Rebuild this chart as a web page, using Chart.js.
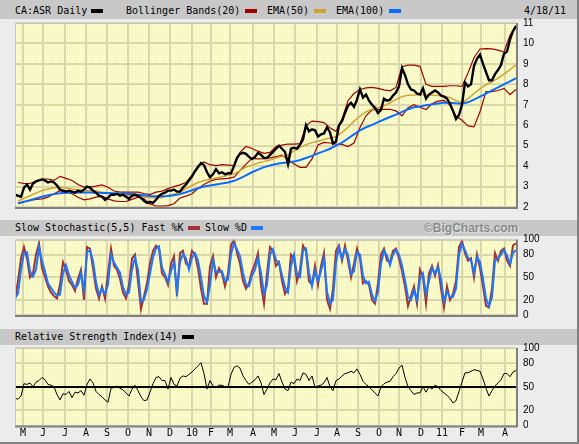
<!DOCTYPE html>
<html>
<head>
<meta charset="utf-8">
<script src="https://cdn.jsdelivr.net/npm/chart.js@4.4.1/dist/chart.umd.min.js"></script>
<style>
  html, body { margin: 0; padding: 0; }
  body { width: 579px; height: 444px; background: #ececec; position: relative; overflow: hidden;
         font-family: 'DejaVu Sans Mono', monospace; font-size: 10px; color: #000; }
  .bar { position: absolute; left: 0; width: 577px; background: #c8c8c8; }
  .t { position: absolute; white-space: pre; line-height: 12px; }
  .sw { position: absolute; width: 12px; height: 4px; }
  .copy { font-family: 'Liberation Sans', sans-serif; font-weight: bold; font-size: 12px; color: #8a8a8a;
          text-shadow: 1px 1px 0 #e6e6e6; line-height: 14px; }
  canvas { position: absolute; left: 0; }
  #frameR { position: absolute; left: 577px; top: 0; width: 2px; height: 444px; background: #808080; }
  #frameB { position: absolute; left: 0; top: 442px; width: 579px; height: 2px; background: #808080; }
</style>
</head>
<body>
<div class="bar" style="top:0;height:19px"></div>
<div class="bar" style="top:220px;height:16px"></div>
<div class="bar" style="top:329px;height:16px"></div>

<div class="t" style="left:15px;top:5px">CA:ASR Daily</div>
<div class="sw" style="left:91px;top:9px;background:#000"></div>
<div class="t" style="left:126px;top:5px">Bollinger Bands(20)</div>
<div class="sw" style="left:245px;top:9px;background:#a00000"></div>
<div class="t" style="left:267px;top:5px">EMA(50)</div>
<div class="sw" style="left:314px;top:9px;background:#d4a030"></div>
<div class="t" style="left:336px;top:5px">EMA(100)</div>
<div class="sw" style="left:389px;top:9px;background:#0a6cff"></div>
<div class="t" style="left:524px;top:5px">4/18/11</div>

<div class="t" style="left:15px;top:222px">Slow Stochastic(5,5) Fast %K</div>
<div class="sw" style="left:188px;top:226px;background:#a33333"></div>
<div class="t" style="left:205px;top:222px">Slow %D</div>
<div class="sw" style="left:251px;top:226px;background:#1a7aff"></div>
<div class="t copy" style="left:424px;top:221px">©BigCharts.com</div>

<div class="t" style="left:15px;top:331px">Relative Strength Index(14)</div>
<div class="sw" style="left:182px;top:335px;background:#000"></div>

<canvas id="main" width="579" height="220" style="top:0"></canvas>
<canvas id="stoch" width="579" height="106" style="top:222px"></canvas>
<canvas id="rsi" width="579" height="111" style="top:333px"></canvas>
<div id="frameR"></div>
<div id="frameB"></div>

<script>
// x axis is in trading days from 4/18/09; close & oscillators read every 3 days,
// bands and averages every 6 days (starting on day 3)
const STEP = 3;
const IND_STEP = 6;
const IND_START = 3;
const X_MAX = 501;

const MONTH_LABELS = ['M', 'J', 'J', 'A', 'S', 'O', 'N', 'D', '10', 'F', 'M', 'A',
                      'M', 'J', 'J', 'A', 'S', 'O', 'N', 'D', '11', 'F', 'M', 'A'];
const MONTH_STARTS = [8, 28, 50, 71, 92, 113, 134, 155, 177, 196, 215, 238,
                      259, 280, 302, 322, 343, 364, 384, 406, 427, 447, 466, 490];

const PRICE_TICKS = [2, 3, 4, 5, 6, 7, 8, 9, 10, 11];
const OSC_TICKS = [0, 20, 50, 80, 100];

const close = [
  2.6, 2.55, 2.5, 2.95, 3.1, 2.85, 3.15, 3.25, 3.3, 3.35,
  3.3, 3.2, 3.25, 3.2, 3.05, 2.85, 2.8, 2.75, 2.8, 2.75,
  2.7, 2.8, 2.75, 2.85, 3.0, 2.95, 2.8, 2.7, 2.55, 2.5,
  2.35, 2.45, 2.6, 2.6, 2.65, 2.55, 2.6, 2.5, 2.4, 2.55,
  2.6, 2.55, 2.45, 2.3, 2.2, 2.25,
  2.2, 2.35, 2.55, 2.65, 2.7, 2.8, 2.8, 2.85, 2.75, 2.75,
  2.95, 3.1, 3.3, 3.5, 3.75, 3.95, 4.15, 4.05, 3.7, 3.45,
  3.6, 3.85, 3.65, 3.7, 3.6, 3.65, 3.65, 4.0, 4.4, 4.6,
  4.65, 4.6, 4.45, 4.35, 4.45, 4.65, 4.55, 4.4, 4.4, 4.55,
  4.7, 4.85, 5.0, 4.85, 4.7,
  4.1, 4.85, 4.9, 4.85, 5.05, 5.3, 6.0, 5.7, 5.8, 5.75,
  5.45, 5.55, 5.6, 5.9, 5.65, 5.1, 5.2, 6.0, 6.2, 6.6,
  6.95, 7.1, 6.9, 7.25, 7.75, 7.35, 7.5, 7.2, 7.0, 6.85,
  6.6, 6.75, 7.3, 7.2, 7.25, 7.45, 7.6, 7.9, 8.8, 8.45,
  8.0, 7.75, 7.7, 7.55, 7.5,
  7.8, 7.3, 7.5, 7.6, 7.7, 7.6, 7.45, 7.4, 7.3, 7.05,
  6.7, 6.3, 6.5, 7.0, 8.1, 7.9, 8.0, 8.9, 9.25, 9.45,
  9.0, 8.6, 8.2, 8.2, 8.5, 8.7, 8.95, 9.5, 9.6, 10.2,
  10.6, 10.85
];

const bbUpper = [
  3.2, 3.15, 3.15, 3.27, 3.37, 3.37, 3.3, 3.5, 3.4, 3.3,
  3.1, 2.97, 2.97, 3.02, 3.08, 2.97, 2.78, 2.73, 2.73, 2.73,
  2.73, 2.66, 2.61,
  2.73, 2.78, 2.9, 3.0, 3.08, 3.2, 3.54, 4.02, 4.2, 4.07,
  4.02, 4.07, 4.05, 4.02, 4.67, 4.96, 4.86, 4.73, 4.62, 4.67,
  4.96, 5.03,
  5.08, 5.08, 5.1, 5.97, 6.2, 6.18, 6.13, 5.87, 5.7, 6.3,
  7.2, 7.55, 7.75, 7.83, 7.85, 7.8, 7.73, 7.68, 7.85, 8.86,
  8.94, 8.94,
  8.88, 8.0, 7.9, 7.9, 7.9, 7.93, 7.93, 7.9, 8.55, 9.3,
  9.73, 9.75, 9.73, 9.67, 9.58, 10.4, 10.88
];

const bbLower = [
  2.2, 2.27, 2.32, 2.37, 2.4, 2.48, 2.65, 2.8, 2.73, 2.65,
  2.48, 2.35, 2.4, 2.48, 2.53, 2.4, 2.3, 2.27, 2.27, 2.37,
  2.48, 2.4, 2.15,
  2.05, 2.05, 2.07, 2.16, 2.44, 2.53, 2.65, 2.9, 3.1, 3.26,
  3.35, 3.38, 3.4, 3.46, 3.78, 4.1, 4.38, 4.35, 4.36, 4.4,
  4.46, 4.54,
  4.32, 4.1, 3.94, 3.94, 4.35, 5.03, 5.16, 5.13, 5.08, 5.06,
  4.96, 5.13, 5.89, 6.46, 6.75, 6.78, 6.78, 6.78, 6.7, 6.46,
  6.86, 7.0,
  6.88, 6.77, 7.05, 7.18, 7.21, 6.99, 6.45, 6.24, 5.97, 5.92,
  6.66, 7.64, 7.64, 7.7, 7.8, 7.5, 7.75
];

const ema50 = [
  2.3, 2.42, 2.55, 2.68, 2.8, 2.88, 2.94, 2.96, 2.94, 2.88,
  2.84, 2.82, 2.8, 2.78, 2.72, 2.67, 2.63, 2.6, 2.57, 2.55,
  2.52, 2.49, 2.46,
  2.45, 2.47, 2.55, 2.62, 2.72, 2.9, 3.05, 3.2, 3.3, 3.35,
  3.42, 3.48, 3.55, 3.62, 3.78, 3.95, 4.05, 4.15, 4.22, 4.3,
  4.4, 4.48,
  4.55, 4.75, 4.92, 5.05, 5.15, 5.22, 5.3, 5.38, 5.45, 5.65,
  5.9, 6.2, 6.45, 6.65, 6.78, 6.85, 6.95, 7.1, 7.25, 7.4,
  7.47, 7.48,
  7.5, 7.48, 7.46, 7.45, 7.43, 7.35, 7.2, 7.1, 7.3, 7.55,
  7.78, 7.98, 8.12, 8.3, 8.5, 8.72, 8.95
];

const ema100 = [
  2.17, 2.25, 2.33, 2.42, 2.5, 2.57, 2.63, 2.67, 2.7, 2.71,
  2.71, 2.71, 2.71, 2.7, 2.69, 2.68, 2.67, 2.66, 2.65, 2.63,
  2.6, 2.57, 2.54,
  2.52, 2.52, 2.54, 2.58, 2.63, 2.72, 2.82, 2.92, 3.0, 3.05,
  3.1, 3.15, 3.2, 3.28, 3.4, 3.55, 3.7, 3.83, 3.95, 4.03,
  4.1, 4.15,
  4.18, 4.22, 4.3, 4.4, 4.5, 4.62, 4.73, 4.85, 5.0, 5.15,
  5.35, 5.55, 5.75, 5.9, 6.02, 6.15, 6.28, 6.4, 6.52, 6.65,
  6.78, 6.88,
  6.92, 6.98, 7.02, 7.06, 7.1, 7.1, 7.07, 7.05, 7.12, 7.25,
  7.4, 7.55, 7.7, 7.85, 8.0, 8.15, 8.3
];

const fastK = [
  20, 45, 75, 90, 75, 50, 55, 80, 95, 62,
  50, 38, 30, 25, 22, 40, 70, 60, 45, 40,
  32, 48, 60, 20, 90, 88, 62, 35, 22, 38,
  22, 55, 88, 65, 60, 48, 30, 22, 40, 75,
  80, 45, 8, 25, 42, 68, 85, 92, 88, 55,
  50, 40, 68, 78, 25, 82, 85, 68, 65, 85,
  80, 62, 35, 15, 15, 65, 78, 50, 62, 55,
  38, 55, 92, 100, 82, 68, 45, 35, 42, 58,
  68, 82, 40, 15, 55, 90, 85, 65, 70, 45,
  28, 35, 80, 75, 45, 60, 92, 85, 45, 40,
  65, 40, 65, 82, 20, 8, 35, 85, 92, 72,
  92, 72, 50, 68, 88, 75, 42, 45, 40, 20,
  15, 42, 80, 88, 72, 70, 85, 88, 75, 58,
  38, 12, 25, 38, 15, 60, 50, 15, 55, 65,
  52, 66, 35, 10, 38, 20, 28, 45, 90, 98,
  82, 72, 75, 50, 80, 62, 38, 12, 10, 35,
  82, 72, 85, 88, 72, 65, 92, 95
];

const slowD = [
  23, 28, 60, 82, 83, 58, 51, 60, 90, 72,
  58, 42, 36, 30, 26, 27, 55, 66, 53, 44,
  36, 40, 55, 33, 83, 86, 72, 44, 27, 35,
  28, 40, 80, 70, 63, 56, 37, 27, 30, 60,
  76, 60, 18, 20, 34, 55, 76, 88, 91, 63,
  54, 44, 58, 70, 32, 70, 81, 75, 60, 76,
  82, 72, 50, 25, 17, 40, 72, 57, 57, 58,
  45, 47, 80, 95, 87, 78, 56, 40, 38, 52,
  60, 75, 56, 28, 40, 80, 87, 73, 69, 53,
  37, 30, 65, 80, 53, 50, 85, 88, 56, 38,
  58, 45, 58, 75, 31, 15, 20, 70, 89, 75,
  87, 80, 54, 58, 83, 80, 52, 42, 44, 27,
  19, 30, 68, 85, 79, 66, 80, 86, 80, 66,
  46, 24, 20, 33, 20, 48, 55, 28, 45, 62,
  55, 63, 48, 18, 31, 24, 24, 35, 80, 94,
  86, 76, 72, 56, 77, 70, 48, 22, 12, 23,
  72, 75, 80, 86, 79, 68, 82, 86
];

const rsi = [
  35, 34, 38, 54, 53, 55, 50, 56, 58, 62,
  59, 53, 52, 50, 40, 33, 41, 40, 44, 36,
  43, 42, 45, 39, 53, 60, 55, 44, 40, 37,
  33, 30, 48, 49, 51, 48, 46, 42, 38, 47,
  52, 45, 37, 32, 33, 43, 54, 62, 63, 58,
  58, 47, 62, 53, 51, 61, 64, 63, 66, 69,
  73, 77, 81, 67, 47, 58, 51, 49, 52, 52,
  50, 50, 66, 75, 77, 74, 64, 58, 53, 56,
  59, 64, 55, 40, 47, 55, 60, 59, 67, 56,
  47, 45, 56, 54, 60, 58, 68, 66, 58, 64,
  49, 51, 52, 55, 62, 50, 45, 58, 60, 64,
  67, 68, 70, 68, 73, 66, 57, 53, 50, 46,
  42, 38, 50, 54, 56, 57, 63, 67, 74, 78,
  62, 50, 45, 40, 42, 42, 50, 43, 50, 47,
  52, 50, 45, 42, 39, 35, 29, 32, 44, 56,
  68, 68, 70, 72, 71, 70, 60, 48, 38, 45,
  51, 55, 59, 67, 67, 63, 69, 71
];

const GRID = '#d8d8ac';
const daily = (vals) => vals.map((v, i) => ({ x: i * STEP, y: v }));
const spaced = (vals) => vals.map((v, i) => ({ x: IND_START + i * IND_STEP, y: v }));

Chart.defaults.font.family = "'Liberation Sans', sans-serif";
Chart.defaults.font.size = 10;
Chart.defaults.color = '#000';

function makePattern(ctx) {
    const c = document.createElement('canvas');
    c.width = 2; c.height = 2;
    const p = c.getContext('2d');
    p.fillStyle = '#ffffcc'; p.fillRect(0, 0, 2, 2);
    p.fillStyle = '#eeeebc'; p.fillRect(1, 1, 1, 1);
    return ctx.createPattern(c, 'repeat');
}

// yellow panel background and the inset frame around it
const panelPlugin = {
    id: 'panel',
    beforeDraw(chart) {
        const { ctx, chartArea: a } = chart;
        ctx.save();
        ctx.fillStyle = makePattern(ctx);
        ctx.fillRect(a.left, a.top, a.right - a.left, a.bottom - a.top);
        ctx.restore();
    },
    afterDraw(chart) {
        const { ctx, chartArea: a } = chart;
        ctx.save();
        ctx.strokeStyle = '#c4c4c4';
        ctx.lineWidth = 1;
        ctx.beginPath();
        ctx.moveTo(a.left + 0.5, a.bottom);
        ctx.lineTo(a.left + 0.5, a.top + 0.5);
        ctx.lineTo(a.right, a.top + 0.5);
        ctx.stroke();
        ctx.strokeStyle = '#808080';
        ctx.lineWidth = 2;
        ctx.beginPath();
        ctx.moveTo(a.left, a.bottom + 1);
        ctx.lineTo(a.right + 1, a.bottom + 1);
        ctx.lineTo(a.right + 1, a.top);
        ctx.stroke();
        ctx.restore();
    },
};

function xScale(showLabels) {
    return {
        type: 'linear', min: 0, max: X_MAX,
        afterBuildTicks: (s) => { s.ticks = MONTH_STARTS.map((v) => ({ value: v })); },
        afterFit: (s) => { s.height = showLabels ? 18.5 : 0; },
        grid: { color: GRID, lineWidth: 2, drawTicks: false },
        border: { display: false },
        ticks: {
            display: showLabels, autoSkip: false, maxRotation: 0, padding: 2,
            font: { family: "'DejaVu Sans Mono', monospace", size: 10 },
            callback: (v, i) => MONTH_LABELS[i],
        },
    };
}

function yScale(min, max, tickValues, midLine) {
    return {
        position: 'right', min, max,
        afterBuildTicks: (s) => { s.ticks = tickValues.map((v) => ({ value: v })); },
        afterFit: (s) => { s.width = 63; },
        grid: {
            drawTicks: false,
            color: (c) => (midLine && c.tick && c.tick.value === 50 ? '#000' : GRID),
            lineWidth: 2,
        },
        border: { display: false },
        ticks: { padding: 7 },
    };
}

function line(data, color, width, order) {
    return { data, borderColor: color, borderWidth: width, pointRadius: 0, tension: 0, fill: false, order };
}

function makeChart(id, datasets, x, y, padding) {
    return new Chart(document.getElementById(id), {
        type: 'line',
        data: { datasets },
        options: {
            responsive: false,
            animation: false,
            devicePixelRatio: 1,
            layout: { padding },
            plugins: { legend: { display: false }, tooltip: { enabled: false } },
            scales: { x, y },
        },
        plugins: [panelPlugin],
    });
}

makeChart('main', [
    line(daily(close), '#000', 2.4, 0),
    line(spaced(ema100), '#0a6cff', 2, 1),
    line(spaced(ema50), '#d4a030', 1.5, 2),
    line(spaced(bbUpper), '#a00000', 1.2, 3),
    line(spaced(bbLower), '#a00000', 1.2, 3),
], xScale(false), yScale(2, 11, PRICE_TICKS, false),
   { left: 15, right: 0, top: 23, bottom: 11.5 });

makeChart('stoch', [
    line(daily(slowD), '#1a7aff', 2, 0),
    line(daily(fastK), '#a33333', 2, 1),
], xScale(false), yScale(0, 100, OSC_TICKS, false),
   { left: 15, right: 0, top: 17.5, bottom: 11.5 });

makeChart('rsi', [
    line(daily(rsi), '#000', 1, 0),
], xScale(true), yScale(0, 100, OSC_TICKS, true),
   { left: 15, right: 0, top: 15, bottom: 0 });
</script>
</body>
</html>
